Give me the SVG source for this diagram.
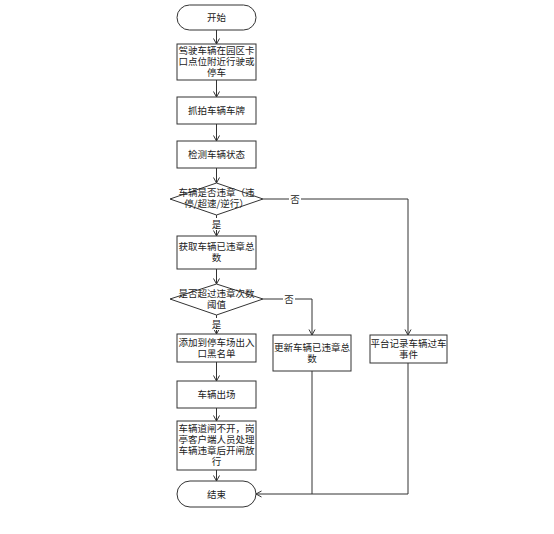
<svg xmlns="http://www.w3.org/2000/svg" width="554" height="534" viewBox="0 0 554 534">
<style>
.n{fill:#fff;stroke:#333;stroke-width:1}
.t{font-family:"Noto Sans CJK SC","Liberation Sans",sans-serif;font-size:9.5px;fill:#222;text-anchor:middle}
.c{fill:none;stroke:#333;stroke-width:1}
.lb{font-family:"Noto Sans CJK SC","Liberation Sans",sans-serif;font-size:9.5px;fill:#222;text-anchor:middle}
</style>
<defs>
<marker id="a" markerWidth="8" markerHeight="8" refX="6" refY="4" orient="auto" markerUnits="userSpaceOnUse">
<path d="M0.5,1 L6,4 L0.5,7" fill="none" stroke="#333" stroke-width="1"/>
</marker>
</defs>
<rect width="554" height="534" fill="#fff"/>
<g id="connectors">
<line class="c" x1="216.5" y1="30" x2="216.5" y2="44" marker-end="url(#a)"/>
<line class="c" x1="216.5" y1="80" x2="216.5" y2="97" marker-end="url(#a)"/>
<line class="c" x1="216.5" y1="124" x2="216.5" y2="141" marker-end="url(#a)"/>
<line class="c" x1="216.5" y1="168" x2="216.5" y2="183" marker-end="url(#a)"/>
<line class="c" x1="216.5" y1="215" x2="216.5" y2="236" marker-end="url(#a)"/>
<polyline class="c" points="263,199 408,199 408,335" marker-end="url(#a)"/>
<line class="c" x1="216.5" y1="269" x2="216.5" y2="284" marker-end="url(#a)"/>
<line class="c" x1="216.5" y1="315" x2="216.5" y2="334" marker-end="url(#a)"/>
<polyline class="c" points="263,299 312,299 312,335" marker-end="url(#a)"/>
<line class="c" x1="216.5" y1="362" x2="216.5" y2="381" marker-end="url(#a)"/>
<line class="c" x1="216.5" y1="408" x2="216.5" y2="421" marker-end="url(#a)"/>
<line class="c" x1="216.5" y1="470" x2="216.5" y2="481" marker-end="url(#a)"/>
<polyline class="c" points="408,363 408,494 256,494" marker-end="url(#a)"/>
<line class="c" x1="312" y1="371" x2="312" y2="494"/>
<rect x="289" y="192" width="12" height="13" fill="#fff"/>
<text class="lb" x="295" y="202.5">否</text>
<rect x="283" y="292" width="12" height="13" fill="#fff"/>
<text class="lb" x="289" y="302.5">否</text>
<rect x="210" y="218" width="13" height="12" fill="#fff"/>
<text class="lb" x="216.5" y="228">是</text>
<rect x="210" y="318" width="13" height="12" fill="#fff"/>
<text class="lb" x="216.5" y="328">是</text>
</g>
<g id="start">
<rect class="n" x="177" y="5" width="79" height="25" rx="12.5"/>
<text class="t" x="216.5" y="21">开始</text>
</g>
<g id="drive">
<rect class="n" x="177" y="44" width="79" height="36"/>
<text class="t" x="216.5" y="54">驾驶车辆在园区卡</text>
<text class="t" x="216.5" y="65">口点位附近行驶或</text>
<text class="t" x="216.5" y="76">停车</text>
</g>
<g id="capture">
<rect class="n" x="177" y="97" width="79" height="27"/>
<text class="t" x="216.5" y="114">抓拍车辆车牌</text>
</g>
<g id="detect">
<rect class="n" x="177" y="141" width="79" height="27"/>
<text class="t" x="216.5" y="158">检测车辆状态</text>
</g>
<g id="violate">
<polygon class="n" points="216.5,183 263,199 216.5,215 170,199"/>
<text class="t" x="216.5" y="196">车辆是否违章（违</text>
<text class="t" x="216.5" y="207">停/超速/逆行）</text>
</g>
<g id="getcount">
<rect class="n" x="177" y="236" width="79" height="33"/>
<text class="t" x="216.5" y="250">获取车辆已违章总</text>
<text class="t" x="216.5" y="261">数</text>
</g>
<g id="threshold">
<polygon class="n" points="216.5,284 263,299 216.5,315 170,299"/>
<text class="t" x="216.5" y="297">是否超过违章次数</text>
<text class="t" x="216.5" y="308">阈值</text>
</g>
<g id="blacklist">
<rect class="n" x="177" y="334" width="79" height="28"/>
<text class="t" x="216.5" y="346">添加到停车场出入</text>
<text class="t" x="216.5" y="357">口黑名单</text>
</g>
<g id="update">
<rect class="n" x="273" y="335" width="78" height="36"/>
<text class="t" x="312" y="351">更新车辆已违章总</text>
<text class="t" x="312" y="362">数</text>
</g>
<g id="record">
<rect class="n" x="370" y="335" width="77" height="28"/>
<text class="t" x="408.5" y="347">平台记录车辆过车</text>
<text class="t" x="408.5" y="358">事件</text>
</g>
<g id="exit">
<rect class="n" x="177" y="381" width="79" height="27"/>
<text class="t" x="216.5" y="398">车辆出场</text>
</g>
<g id="gate">
<rect class="n" x="177" y="421" width="79" height="49"/>
<text class="t" x="216.5" y="432">车辆道闸不开，岗</text>
<text class="t" x="216.5" y="443">亭客户端人员处理</text>
<text class="t" x="216.5" y="454">车辆违章后开闸放</text>
<text class="t" x="216.5" y="465">行</text>
</g>
<g id="end">
<rect class="n" x="177" y="481" width="79" height="26" rx="13"/>
<text class="t" x="216.5" y="497.5">结束</text>
</g>
</svg>
